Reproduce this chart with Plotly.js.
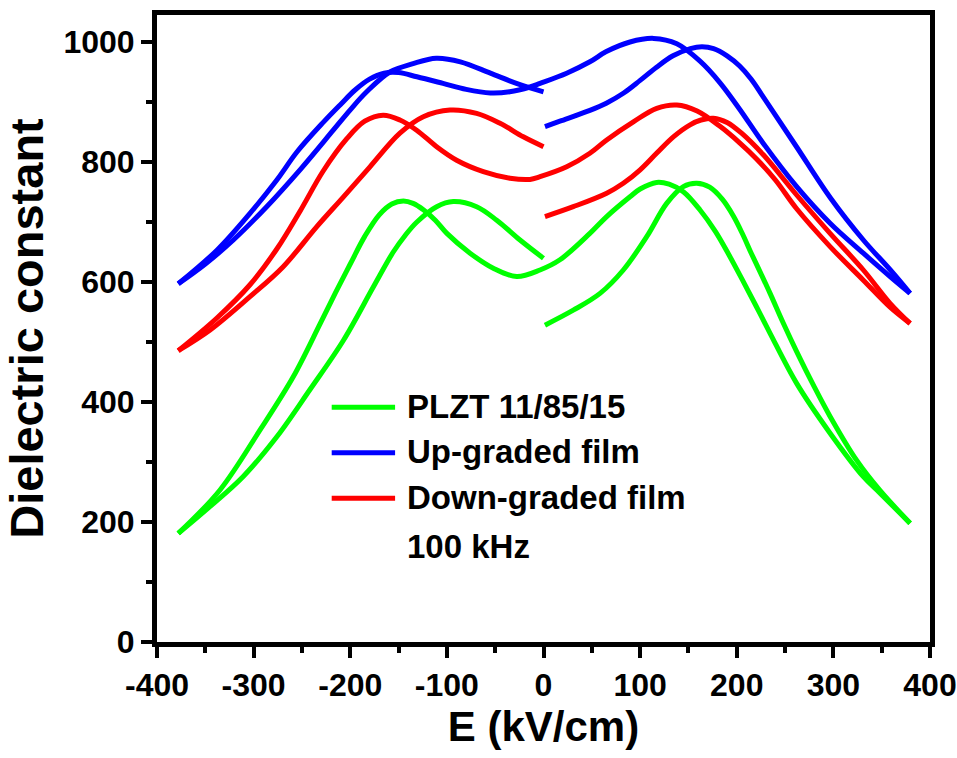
<!DOCTYPE html>
<html>
<head>
<meta charset="utf-8">
<script src="https://cdn.plot.ly/plotly-3.0.1.min.js"></script>
<style>
  html, body { margin: 0; padding: 0; background: #ffffff; }
  #chart { width: 957px; height: 758px; }
</style>
</head>
<body>
<div id="chart"></div>
<script>
// Dielectric constant vs. applied field (butterfly loops), 100 kHz.
// Each sample is measured as three sweeps: 0 -> +Emax, +Emax -> -Emax, -Emax -> 0.

// PLZT 11/85/15
const plztSweep1E = [1.5, 30.8, 58.5, 82.6, 106.8, 127.5, 144.7, 158.6, 172, 185, 196.5, 206, 215, 225, 234.5, 248, 262, 280, 296.6, 324, 348, 379.4];
const plztSweep1K = [528, 553, 581, 620, 675.5, 731, 759, 764.5, 758, 738, 710, 680, 648, 614, 581, 532, 484, 426, 376, 303, 253, 198];
const plztSweep2E = [379.4, 348.3, 331, 296.6, 262, 234.5, 220, 206, 192, 178, 162, 145, 130, 117, 100, 89.5, 65.4, 48, 17, -3.6, -27.7, -52, -76, -100, -112, -124, -135, -145, -157, -170, -185, -200, -215, -231, -259, -293.5, -335, -378];
const plztSweep2K = [198, 248, 275.5, 348, 431, 514.5, 560, 603, 645, 684, 720, 750, 763, 766, 755, 742, 709, 681, 637, 620, 609, 623, 648, 681, 703, 720, 731, 735, 730, 712, 676, 630, 583, 531, 442, 353, 253, 181];
const plztSweep3E = [-378, -345, -311, -276, -242, -207, -176, -155.5, -143, -131, -110.6, -93.4, -69.2, -48.4, -24.3, 0];
const plztSweep3K = [181, 226, 275.5, 342, 420, 503, 592, 650, 678, 700, 725.5, 734, 725.5, 703, 670, 639.5];

// Up-graded film
const upSweep1E = [1.5, 17, 48, 65, 83, 100, 117, 134, 152, 164, 176, 190, 203, 215, 226, 240, 262, 297, 331, 359, 379.4];
const upSweep1K = [859, 868, 886, 898, 915, 936, 958, 977, 989, 992, 989, 977, 960, 938, 912, 878, 825, 740, 670, 620, 581];
const upSweep2E = [379.4, 358.7, 331, 296.6, 262, 227.5, 203, 182.7, 162, 138, 114, 89.5, 65, 48, 24, -3.6, -14, -35, -55, -80, -104, -131, -150, -165, -180, -195, -210, -228, -255, -276, -304, -338, -378];
const upSweep2K = [581, 609, 648, 698, 759, 831, 888, 932, 968, 997, 1006, 1000, 984, 967, 948, 931, 925, 917, 915, 921, 931, 942, 949, 948, 938, 920, 896, 866, 817, 770, 714, 653, 597];
const upSweep3E = [-378, -350, -321, -286.5, -252, -217.6, -200, -183, -159, -135, -111, -86, -55, -28, 0];
const upSweep3K = [597, 630, 670, 725.5, 787, 853, 887, 917, 950, 964, 973, 967, 948, 931, 917];

// Down-graded film
const downSweep1E = [1.5, 30.8, 65.4, 82.6, 100, 117, 134.4, 151.7, 163, 175.8, 190, 205, 227.5, 262, 296.6, 331, 358.7, 379.4];
const downSweep1K = [709, 725.5, 748, 764.5, 787, 814.5, 842, 862, 870, 873, 866, 848, 812, 745, 681, 620, 564.5, 531];
const downSweep2E = [379.4, 358.7, 331, 296.6, 262, 240, 220, 203, 183, 159, 138, 117.2, 93, 65.4, 48, 24, -3.6, -14, -34.7, -62.3, -89.9, -110.6, -131.3, -148.6, -166, -185, -204, -228, -252, -276, -304, -338, -378];
const downSweep2K = [531, 558, 603, 659, 722, 770, 806, 832, 859, 885, 895, 889.5, 867, 836.7, 814.5, 792, 775.5, 771, 773, 784, 803, 825.5, 853, 870, 878, 868, 838, 785, 718, 655, 595, 540, 485.5];
const downSweep3E = [-378, -345, -303.8, -269.4, -234.8, -207, -179.6, -148.6, -124.4, -96.8, -69.2, -45, -20.9, 0];
const downSweep3K = [485.5, 520, 575.5, 625.5, 692, 742, 792, 848, 875.5, 886.7, 881, 864.5, 842, 825.5];

const seriesNames = ['PLZT 11/85/15', 'Up-graded film', 'Down-graded film'];
const seriesColors = ['#00ff00', '#0000ff', '#ff0000'];
const noteText = '100 kHz';

const xTickVals = [-400, -300, -200, -100, 0, 100, 200, 300, 400];
const xTickText = ['-400', '-300', '-200', '-100', '0', '100', '200', '300', '400'];
const yTickVals = [0, 200, 400, 600, 800, 1000];
const yTickText = ['0', '200', '400', '600', '800', '1000'];

const sweeps = [
  [[plztSweep1E, plztSweep1K], [plztSweep2E, plztSweep2K], [plztSweep3E, plztSweep3K]],
  [[upSweep1E, upSweep1K], [upSweep2E, upSweep2K], [upSweep3E, upSweep3K]],
  [[downSweep1E, downSweep1K], [downSweep2E, downSweep2K], [downSweep3E, downSweep3K]]
];

const FONT = 'Liberation Sans, Arial, Helvetica, sans-serif';

const traces = [];
sweeps.forEach((set, i) => {
  set.forEach(([xs, ys]) => {
    traces.push({
      x: xs, y: ys,
      type: 'scatter', mode: 'lines',
      name: seriesNames[i], legendgroup: seriesNames[i],
      showlegend: false,
      line: { color: seriesColors[i], width: 5, shape: 'spline', smoothing: 1 },
      hoverinfo: 'x+y+name'
    });
  });
});

// hand-built key: long line samples beside bold labels
const keyX0 = 0.226, keyX1 = 0.308, keyTextX = 0.3208;
const keyY = [0.3743, 0.3019, 0.2292];
const shapes = [];
const annotations = [];
seriesNames.forEach((name, i) => {
  shapes.push({
    type: 'line', xref: 'paper', yref: 'paper',
    x0: keyX0, x1: keyX1, y0: keyY[i], y1: keyY[i],
    line: { color: seriesColors[i], width: 5 }
  });
  annotations.push({
    xref: 'paper', yref: 'paper', x: keyTextX, y: keyY[i] + 0.002,
    xanchor: 'left', yanchor: 'middle', showarrow: false,
    text: name, font: { family: FONT, size: 33, color: '#000', weight: 'bold' }
  });
});
annotations.push({
  xref: 'paper', yref: 'paper', x: keyTextX, y: 0.152,
  xanchor: 'left', yanchor: 'middle', showarrow: false,
  text: noteText, font: { family: FONT, size: 33, color: '#000', weight: 'bold' }
});

const axisCommon = {
  showline: true, linewidth: 5, linecolor: '#000', mirror: true,
  showgrid: false, zeroline: false,
  ticks: 'outside', ticklen: 11, tickwidth: 4, tickcolor: '#000',
  tickfont: { family: FONT, size: 32, color: '#000', weight: 'bold' }
};

const layout = {
  width: 957, height: 758,
  margin: { l: 157, r: 27, t: 15, b: 116 },
  paper_bgcolor: '#ffffff', plot_bgcolor: '#ffffff',
  font: { family: FONT, color: '#000' },
  showlegend: false,
  xaxis: Object.assign({}, axisCommon, {
    range: [-400, 400],
    tickmode: 'array', tickvals: xTickVals, ticktext: xTickText,
    minor: { ticks: 'outside', ticklen: 6, tickwidth: 4, tickcolor: '#000', dtick: 50, tick0: -400, showgrid: false },
    title: { text: 'E (kV/cm)', font: { family: FONT, size: 42, color: '#000', weight: 'bold' }, standoff: 4 }
  }),
  yaxis: Object.assign({}, axisCommon, {
    range: [0, 1045],
    tickmode: 'array', tickvals: yTickVals, ticktext: yTickText,
    minor: { ticks: 'outside', ticklen: 6, tickwidth: 4, tickcolor: '#000', dtick: 100, tick0: 0, showgrid: false },
    title: { text: 'Dielectric constant', font: { family: FONT, size: 47, color: '#000', weight: 'bold' }, standoff: 14 }
  }),
  shapes: shapes,
  annotations: annotations
};

Plotly.newPlot('chart', traces, layout, { displayModeBar: false, staticPlot: true });
</script>
</body>
</html>
